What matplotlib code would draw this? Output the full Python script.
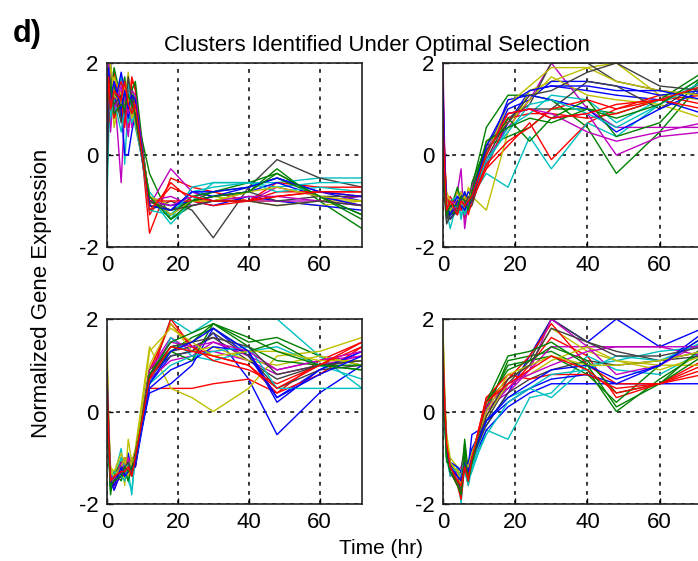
import matplotlib
matplotlib.use("Agg")
import matplotlib.pyplot as plt

plt.rcParams['font.family'] = ['Liberation Sans', 'DejaVu Sans']
plt.rcParams['axes.unicode_minus'] = False

time_hr = [0, 0.5, 1, 2, 4, 5, 6, 7, 8, 12, 18, 24, 30, 40, 48, 60, 72]
x_ticks = [0, 20, 40, 60]
y_ticks = [-2, 0, 2]

cluster1 = [
    [0.2, 1.8, 2.0, 1.2, 1.6, 0.9, 1.4, 1.1, 0.7, -1.0, -1.2, -0.8, -0.9, -0.7, -0.5, -0.8, -1.0],
    [-0.6, 1.2, 1.6, 0.8, 1.3, 1.7, 1.0, 1.5, 1.0, -0.4, -1.4, -1.1, -1.0, -0.8, -0.3, -1.0, -1.6],
    [1.0, 1.5, 1.1, 1.8, 0.9, 1.3, 0.6, 1.6, 1.5, -1.7, -0.5, -0.7, -0.8, -1.0, -0.9, -0.8, -0.8],
    [0.4, 0.8, 1.4, 1.0, 1.7, -0.2, 1.2, 0.9, 0.8, -0.9, -1.5, -1.0, -0.6, -0.6, -0.6, -0.5, -0.5],
    [0.8, 1.3, 0.5, 1.5, -0.6, 1.0, 0.4, 1.2, 1.1, -1.1, -0.3, -0.8, -1.0, -1.0, -0.7, -0.9, -1.1],
    [1.5, 2.0, 1.7, 0.6, 1.4, 1.1, 1.6, 0.8, 1.2, -1.0, -1.2, -1.0, -0.9, -1.0, -1.0, -1.1, -1.0],
    [-0.3, 0.9, 1.2, 1.6, 0.8, 1.5, 0.9, 1.3, 0.9, -1.2, -1.0, -1.2, -1.8, -0.7, -0.1, -0.5, -0.7],
    [1.2, 1.6, 1.9, 1.1, 1.0, 0.0, 0.0, 0.5, 0.9, -0.9, -1.3, -1.0, -1.1, -0.9, -1.0, -1.1, -1.2],
    [0.0, 1.0, 1.3, 1.9, 1.2, 0.8, 1.4, 1.0, 1.3, -1.0, -1.3, -0.9, -0.8, -0.6, -0.4, -0.9, -1.3],
    [0.6, 1.4, 0.9, 1.2, 1.6, 1.3, 1.0, 1.7, 1.4, -1.3, -0.6, -1.0, -1.1, -1.0, -0.6, -0.7, -0.7],
    [-1.0, 0.5, 1.0, 1.3, 1.1, 1.6, 0.7, 1.1, 0.6, -0.8, -1.4, -0.7, -0.6, -0.6, -0.7, -0.6, -0.6],
    [0.3, 1.1, 1.8, 0.9, 1.4, 0.7, 1.3, 0.6, 1.0, -1.0, -0.9, -1.1, -1.0, -1.0, -1.0, -1.0, -0.9],
    [0.9, 1.9, 1.4, 1.7, 1.3, 1.2, 1.8, 1.0, 0.7, -0.9, -1.1, -1.0, -1.0, -1.0, -1.1, -1.0, -1.0],
    [0.5, 1.3, 1.0, 1.4, 0.7, 1.1, 1.2, 0.9, 1.1, -1.1, -1.2, -1.0, -0.9, -0.8, -1.0, -0.9, -0.9],
    [-0.2, 1.7, 1.5, 1.0, 1.8, 1.4, 0.8, 1.2, 1.0, -1.0, -1.1, -1.0, -0.9, -0.8, -0.6, -0.9, -1.1],
    [0.7, 1.1, 1.7, 1.5, 1.0, 1.3, 1.1, 1.4, 1.6, -1.1, -1.2, -1.0, -0.8, -0.7, -0.5, -0.9, -1.3],
    [1.3, 0.7, 1.2, 0.8, 1.2, 0.6, 1.5, 1.0, 1.2, -1.0, -1.0, -1.0, -1.0, -1.0, -0.8, -0.8, -0.9],
    [0.1, 1.5, 0.8, 1.2, 0.5, 1.0, 1.6, 0.7, 0.9, -1.2, -1.3, -0.8, -0.7, -0.6, -0.8, -0.7, -0.8],
    [0.9, 2.0, 1.3, 1.0, 1.5, 1.2, 0.9, 1.4, 1.3, -1.0, -1.1, -0.9, -1.0, -0.9, -0.9, -1.0, -1.1],
    [1.1, 1.4, 2.0, 1.3, 1.1, 1.5, 1.2, 0.8, 1.0, -0.9, -1.3, -1.0, -1.0, -0.8, -0.7, -0.9, -1.0],
    [-0.5, 1.0, 1.5, 1.1, 1.3, 0.9, 1.7, 1.2, 0.8, -1.0, -1.2, -1.1, -1.0, -1.0, -1.1, -1.0, -1.1],
    [0.4, 1.9, 1.2, 1.6, 1.0, 1.4, 1.0, 1.3, 1.2, -1.1, -1.2, -0.8, -0.8, -0.7, -0.5, -0.8, -0.9],
    [1.4, 1.2, 1.6, 0.9, 1.1, 1.0, 1.3, 1.1, 0.9, -0.9, -1.4, -1.0, -0.9, -0.8, -0.4, -0.9, -1.4],
    [0.7, 1.7, 1.0, 1.4, 1.2, 1.6, 1.1, 0.9, 1.1, -1.2, -0.7, -0.9, -1.0, -1.0, -0.9, -0.8, -0.8],
]

cluster2 = [
    [1.2, -0.4, -1.3, -1.1, -1.0, -0.8, -1.2, -0.9, -1.0, -0.2, 0.7, 1.4, 1.5, 1.4, 1.3, 1.2, 0.9],
    [0.0, -0.8, -1.4, -1.0, -0.9, -1.2, -0.8, -1.1, -0.7, 0.6, 1.3, 1.3, 1.2, 0.6, -0.4, 0.5, 1.6],
    [1.3, -0.2, -1.0, -1.3, -1.1, -0.9, -1.4, -1.0, -0.8, -0.3, 0.2, 0.7, -0.1, 0.7, 1.0, 1.3, 1.1],
    [0.5, -0.6, -1.2, -1.6, -1.0, -1.3, -1.1, -1.2, -0.9, -0.4, -0.7, 0.4, -0.3, 0.7, 0.4, 1.1, 1.7],
    [2.0, -0.1, -1.1, -1.2, -0.8, -0.3, -1.6, -1.0, -0.9, -0.1, 0.6, 1.2, 2.0, 1.0, 0.6, 0.6, 0.6],
    [1.5, -0.5, -0.9, -1.1, -0.8, -1.0, -1.2, -0.7, -0.9, -1.2, 0.5, 1.4, 1.6, 1.9, 2.0, 1.3, 1.2],
    [-0.3, -0.9, -1.4, -1.2, -1.3, -1.0, -0.9, -1.2, -1.1, -0.1, 0.8, 1.1, 2.0, 2.0, 1.6, 1.4, 1.3],
    [0.8, -0.3, -1.0, -1.4, -1.1, -1.2, -1.0, -0.8, -0.9, 0.0, 1.0, 1.2, 1.6, 1.6, 1.5, 1.3, 1.4],
    [0.3, -0.7, -1.3, -1.2, -0.7, -1.0, -1.3, -1.1, -0.6, 0.2, 0.4, 0.6, 1.0, 1.0, 0.9, 1.2, 1.8],
    [0.9, -0.4, -1.1, -0.9, -1.2, -1.1, -0.9, -1.3, -1.0, -0.3, 0.8, 0.9, 0.9, 0.8, 0.9, 1.2, 1.3],
    [0.2, -0.6, -1.2, -1.0, -0.9, -1.4, -1.0, -1.0, -0.8, -0.2, 0.6, 0.9, 1.3, 1.2, 0.7, 1.2, 1.5],
    [0.6, -0.5, -1.3, -1.1, -1.0, -0.9, -1.1, -1.2, -0.7, 0.1, 0.9, 1.0, 0.8, 0.9, 0.0, 0.4, 0.5],
    [1.0, -0.2, -0.8, -1.0, -1.1, -0.8, -1.0, -0.9, -1.0, 0.3, 0.7, 1.2, 1.7, 1.3, 1.2, 1.1, 0.8],
    [-0.5, -1.0, -1.5, -1.3, -1.0, -1.1, -1.2, -1.0, -0.9, 0.2, 0.9, 1.0, 1.0, 1.6, 1.5, 1.0, 1.6],
    [1.1, -0.3, -1.1, -1.2, -0.9, -1.0, -0.8, -1.1, -1.0, 0.0, 1.2, 1.3, 1.2, 1.0, 0.5, 1.0, 1.4],
    [0.4, -0.5, -1.2, -1.3, -1.2, -0.9, -1.0, -1.0, -0.8, 0.1, 0.8, 0.3, 0.8, 1.2, 0.4, 0.7, 1.7],
    [1.2, -0.1, -1.0, -1.1, -1.0, -1.2, -1.1, -0.9, -1.0, -0.2, 0.3, 0.6, 1.0, 1.2, 1.0, 1.2, 1.0],
    [0.7, -0.4, -1.1, -1.2, -1.1, -1.0, -1.3, -1.1, -0.9, -0.1, 0.5, 1.1, 1.2, 0.9, 0.6, 1.1, 1.6],
    [1.6, -0.3, -1.2, -1.0, -1.1, -0.9, -1.0, -1.1, -0.9, 0.1, 0.9, 1.0, 0.9, 0.5, 0.3, 0.5, 0.7],
    [0.6, -0.6, -1.0, -1.2, -1.0, -1.1, -0.9, -1.0, -0.8, 0.0, 1.1, 1.5, 1.9, 1.9, 1.6, 1.4, 1.3],
    [0.2, -0.8, -1.3, -1.4, -1.2, -1.0, -1.1, -0.9, -1.0, 0.1, 0.7, 1.3, 1.4, 1.8, 2.0, 1.5, 1.4],
    [1.4, -0.2, -1.1, -1.3, -1.0, -1.1, -1.2, -1.0, -0.9, 0.2, 1.1, 1.4, 1.5, 1.5, 1.4, 1.4, 1.2],
    [0.1, -0.7, -1.3, -1.1, -1.1, -0.9, -1.0, -1.2, -0.8, 0.3, 0.6, 0.8, 0.7, 1.0, 0.8, 1.1, 1.7],
    [0.8, -0.4, -1.2, -1.0, -1.3, -1.0, -1.1, -1.0, -0.9, 0.0, 0.9, 1.0, 0.8, 0.9, 1.1, 1.2, 1.5],
]

cluster3 = [
    [1.1, -0.5, -1.4, -1.6, -1.0, -1.4, -0.9, -1.3, -1.1, 0.6, 1.2, 1.3, 1.7, 0.7, -0.5, 0.4, 1.0],
    [0.2, -0.8, -1.7, -1.5, -1.2, -1.0, -1.5, -1.2, -1.0, 0.8, 1.4, 1.5, 1.9, 1.5, 1.6, 1.2, 1.0],
    [0.4, -0.6, -1.5, -1.3, -1.4, -1.2, -1.0, -1.4, -1.0, 0.5, 0.5, 0.5, 0.6, 0.7, 0.4, 1.1, 1.5],
    [0.0, -1.0, -1.6, -1.4, -0.8, -1.5, -1.3, -1.8, -0.9, 0.7, 2.0, 1.7, 2.0, 2.0, 2.0, 1.2, 0.5],
    [0.6, -0.4, -1.3, -1.7, -1.3, -1.1, -1.4, -1.2, -1.1, 0.9, 1.6, 1.3, 1.3, 1.1, 0.8, 1.0, 1.2],
    [1.7, -0.2, -1.2, -1.4, -1.0, -1.6, -0.6, -1.1, -0.8, 1.4, 0.5, 0.3, 0.0, 0.5, 1.2, 1.3, 1.6],
    [0.3, -0.7, -1.5, -1.6, -1.1, -1.3, -1.2, -1.0, -1.2, 0.7, 1.3, 1.4, 1.6, 1.1, 0.7, 1.0, 1.1],
    [0.8, -0.3, -1.4, -1.5, -1.2, -1.0, -1.4, -1.3, -1.0, 0.4, 0.6, 1.0, 1.8, 1.2, 0.3, 0.9, 1.3],
    [0.5, -0.9, -1.8, -1.3, -1.5, -1.2, -1.1, -1.4, -1.1, 0.8, 1.3, 1.6, 1.8, 1.3, 1.5, 1.0, 0.9],
    [0.1, -0.5, -1.6, -1.4, -1.3, -1.4, -1.2, -1.1, -1.2, 0.9, 1.9, 1.4, 1.2, 1.0, 0.4, 0.8, 1.4],
    [0.9, -0.6, -1.3, -1.5, -1.0, -1.2, -1.5, -1.7, -1.0, 0.6, 1.6, 1.2, 1.1, 1.3, 1.4, 1.0, 0.7],
    [0.4, -0.8, -1.5, -1.6, -1.4, -1.3, -1.0, -1.2, -0.9, 0.7, 1.1, 1.2, 1.5, 1.2, 0.9, 1.1, 1.2],
    [1.0, -0.4, -1.2, -1.3, -0.9, -1.1, -1.3, -1.0, -1.1, 1.0, 1.9, 1.3, 1.4, 1.1, 1.0, 1.2, 1.0],
    [0.2, -0.7, -1.6, -1.5, -1.2, -1.4, -1.2, -1.3, -1.0, 0.8, 1.2, 1.3, 1.7, 1.2, 0.5, 0.9, 1.0],
    [0.7, -0.6, -1.5, -1.7, -1.3, -1.2, -1.4, -1.1, -1.2, 0.5, 0.9, 1.1, 1.4, 1.3, 0.2, 0.9, 1.3],
    [0.3, -0.9, -1.7, -1.4, -1.1, -1.3, -1.5, -1.2, -0.9, 0.9, 1.3, 1.1, 1.9, 1.4, 1.1, 1.0, 1.0],
    [0.6, -0.5, -1.4, -1.6, -1.2, -1.0, -1.3, -1.3, -1.0, 0.7, 2.0, 1.4, 1.1, 0.9, 0.6, 1.0, 1.4],
    [0.5, -0.7, -1.6, -1.3, -1.4, -1.5, -1.1, -1.2, -1.1, 0.6, 1.0, 1.2, 1.3, 1.4, 0.5, 0.5, 0.5],
    [0.3, -0.6, -1.4, -1.5, -1.1, -1.3, -1.2, -1.2, -1.0, 0.9, 1.5, 1.4, 1.5, 1.3, 0.9, 1.1, 1.3],
    [1.2, -0.4, -1.3, -1.4, -1.2, -1.0, -1.4, -1.1, -1.0, 1.3, 1.8, 1.5, 1.2, 1.3, 1.3, 1.1, 1.1],
    [0.4, -0.8, -1.6, -1.5, -1.3, -1.2, -1.1, -1.3, -1.1, 0.8, 1.4, 1.5, 1.6, 1.4, 0.8, 1.0, 1.1],
    [0.9, -0.5, -1.5, -1.6, -1.2, -1.4, -1.3, -1.2, -1.1, 0.6, 1.3, 1.5, 1.8, 1.3, 0.3, 0.8, 1.2],
    [0.5, -0.7, -1.6, -1.5, -1.4, -1.2, -1.3, -1.2, -1.0, 0.8, 1.5, 1.7, 1.9, 1.6, 1.3, 1.0, 0.9],
    [0.7, -0.6, -1.5, -1.4, -1.3, -1.3, -1.2, -1.4, -1.0, 0.7, 1.4, 1.3, 1.2, 1.0, 0.5, 1.0, 1.5],
]

cluster4 = [
    [1.6, 0.2, -0.6, -1.1, -1.4, -1.6, -1.0, -1.2, -0.5, -0.3, 0.4, 1.2, 2.0, 1.5, 2.0, 1.4, 1.8],
    [0.1, -0.3, -1.0, -1.2, -1.5, -1.8, -0.8, -1.4, -1.2, 0.0, 1.1, 1.2, 1.3, 0.9, 0.0, 0.7, 1.3],
    [1.2, 0.0, -0.8, -1.3, -1.6, -1.5, -1.2, -1.6, -1.0, 0.3, 0.5, 1.0, 1.6, 1.2, 0.3, 0.6, 1.1],
    [0.5, -0.2, -0.9, -1.1, -1.2, -2.0, -1.1, -1.5, -1.3, -0.4, -0.6, 0.3, 0.4, 1.2, 0.9, 0.8, 1.3],
    [0.8, 0.1, -0.7, -1.4, -1.3, -1.2, -0.9, -1.3, -1.1, 0.1, 0.4, 0.9, 1.4, 1.4, 1.4, 1.4, 1.2],
    [1.9, 0.3, -0.5, -1.0, -1.2, -1.5, -1.0, -1.1, -0.9, -0.1, 0.7, 1.0, 1.8, 1.3, 1.1, 1.0, 1.0],
    [0.3, -0.1, -0.8, -1.2, -1.4, -1.3, -0.7, -1.4, -1.0, -0.2, 0.6, 1.1, 2.0, 1.5, 1.3, 1.1, 1.2],
    [1.0, 0.1, -0.9, -1.3, -1.5, -1.4, -1.2, -1.2, -1.1, -0.4, 0.1, 0.4, 0.6, 0.6, 0.6, 0.6, 0.6],
    [0.4, -0.2, -1.1, -1.1, -1.6, -1.7, -0.6, -1.3, -0.9, 0.1, 1.0, 1.1, 1.2, 0.8, 0.2, 1.0, 1.6],
    [0.9, 0.0, -0.7, -1.2, -1.3, -1.8, -1.1, -1.5, -1.0, 0.2, 0.7, 1.2, 1.9, 1.0, 0.6, 0.6, 0.8],
    [0.2, -0.3, -1.0, -1.4, -1.2, -1.3, -1.3, -1.6, -1.2, -0.2, 0.3, 0.5, 0.3, 1.0, 1.1, 1.3, 1.4],
    [0.6, 0.0, -0.8, -1.2, -1.4, -1.5, -1.0, -1.2, -1.0, 0.0, 0.5, 0.9, 2.0, 1.4, 0.8, 1.0, 1.5],
    [1.4, 0.2, -0.6, -1.1, -1.3, -1.4, -0.9, -1.3, -1.1, -0.1, 0.6, 0.8, 1.1, 1.4, 1.1, 0.9, 1.2],
    [0.7, -0.1, -0.9, -1.3, -1.5, -1.6, -1.1, -1.4, -1.0, -0.3, 0.4, 0.7, 0.9, 1.1, 1.0, 1.1, 1.3],
    [1.3, 0.1, -0.7, -1.1, -1.2, -1.3, -1.2, -1.1, -0.8, -0.2, 0.2, 0.5, 0.7, 0.8, 0.6, 1.0, 1.7],
    [0.5, -0.2, -0.8, -1.2, -1.4, -1.5, -0.8, -1.5, -1.1, 0.2, 0.9, 1.1, 1.4, 1.1, 0.4, 0.6, 1.4],
    [1.1, 0.0, -0.9, -1.3, -1.6, -1.9, -1.2, -1.4, -1.0, 0.3, 0.8, 0.7, 0.8, 0.8, 0.5, 0.6, 0.9],
    [0.3, -0.2, -1.0, -1.2, -1.3, -1.4, -1.0, -1.3, -1.2, -0.5, 0.2, 0.5, 0.8, 0.9, 1.2, 1.1, 1.5],
    [0.9, 0.1, -0.8, -1.2, -1.4, -1.5, -1.0, -1.3, -1.0, 0.1, 0.6, 0.8, 1.0, 1.3, 1.4, 1.4, 1.4],
    [1.7, 0.2, -0.6, -1.1, -1.3, -1.6, -1.1, -1.2, -0.9, 0.0, 0.8, 1.0, 1.2, 1.0, 1.0, 1.1, 1.3],
    [0.4, -0.1, -0.9, -1.3, -1.5, -1.7, -1.2, -1.4, -1.1, -0.1, 0.7, 1.0, 1.8, 1.5, 1.2, 1.2, 1.4],
    [1.1, 0.0, -0.8, -1.2, -1.4, -1.5, -1.1, -1.3, -1.0, -0.2, 0.3, 0.6, 0.9, 1.0, 0.7, 1.0, 1.6],
    [0.6, -0.2, -1.0, -1.3, -1.6, -1.8, -0.9, -1.5, -1.1, 0.2, 1.2, 1.3, 1.5, 1.0, 0.1, 0.6, 1.2],
    [1.3, 0.1, -0.7, -1.2, -1.5, -1.6, -1.2, -1.5, -1.0, 0.2, 0.6, 0.9, 1.2, 0.9, 0.4, 0.6, 1.0],
]

clusters = [cluster1, cluster2, cluster3, cluster4]

# MATLAB-like default line colour order
line_colors = ['#0000ff', '#008000', '#ff0000', '#00bfbf', '#bf00bf', '#bfbf00', '#404040']

W, H = 698, 561
fig = plt.figure(figsize=(W / 100, H / 100), dpi=100)

# axes boxes in pixels: (left, top, right, bottom)
boxes = [(107, 63, 362, 247), (443, 63, 703, 247),
         (107, 319, 362, 504), (443, 319, 703, 504)]

for box, data in zip(boxes, clusters):
    l, t, r, b = box
    ax = fig.add_axes([l / W, 1 - b / H, (r - l) / W, (b - t) / H])
    for i, series in enumerate(data):
        ax.plot(time_hr, series, color=line_colors[i % len(line_colors)], lw=1.0)
    ax.set_xlim(0, 72)
    ax.set_ylim(-2, 2)
    ax.set_xticks(x_ticks)
    ax.set_yticks(y_ticks)
    ax.grid(True, color='black', linestyle=(0, (2.5, 3.5)), linewidth=1.1)
    ax.tick_params(direction='in', length=4, labelsize=16, pad=6, width=1)
    for s in ax.spines.values():
        s.set_linewidth(1.2)
        s.set_color('#222222')

fig.text(13 / W, 1 - 42 / H, 'd)', fontsize=22, fontweight='bold', ha='left', va='baseline')
fig.text(377 / W, 1 - 51 / H, 'Clusters Identified Under Optimal Selection',
         fontsize=16, ha='center', va='baseline')
fig.text(42 / W, 1 - 293 / H, 'Normalized Gene Expression', fontsize=16,
         rotation=90, ha='center', va='center')
fig.text(381 / W, 1 - 549 / H, 'Time (hr)', fontsize=15, ha='center', va='center')

fig.savefig('out.png', dpi=100)
